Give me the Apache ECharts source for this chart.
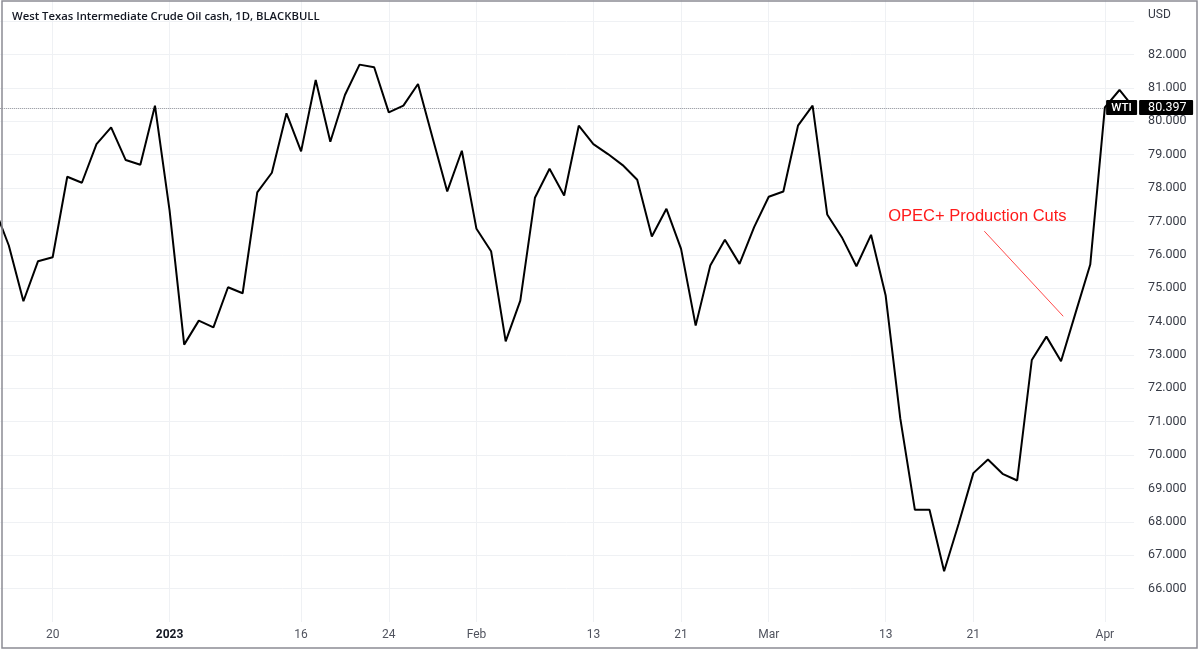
<!DOCTYPE html>
<html>
<head>
<meta charset="utf-8">
<script src="https://cdn.jsdelivr.net/npm/echarts@6/dist/echarts.min.js"></script>
<style>
  html, body { margin: 0; padding: 0; background: #fff; }
  #chart { width: 1202px; height: 651px; }
</style>
</head>
<body>
<div id="chart"></div>
<script>
// ---- data ----
const dates = [
  "2022-12-14","2022-12-15","2022-12-16","2022-12-19","2022-12-20","2022-12-21","2022-12-22","2022-12-23",
  "2022-12-27","2022-12-28","2022-12-29","2022-12-30",
  "2023-01-03","2023-01-04","2023-01-05","2023-01-06","2023-01-09","2023-01-10","2023-01-11","2023-01-12","2023-01-13",
  "2023-01-16","2023-01-17","2023-01-18","2023-01-19","2023-01-20","2023-01-23","2023-01-24","2023-01-25","2023-01-26","2023-01-27",
  "2023-01-30","2023-01-31","2023-02-01","2023-02-02","2023-02-03","2023-02-06","2023-02-07","2023-02-08","2023-02-09","2023-02-10",
  "2023-02-13","2023-02-14","2023-02-15","2023-02-16","2023-02-17","2023-02-20","2023-02-21","2023-02-22","2023-02-23","2023-02-24",
  "2023-02-27","2023-02-28","2023-03-01","2023-03-02","2023-03-03","2023-03-06","2023-03-07","2023-03-08","2023-03-09","2023-03-10",
  "2023-03-13","2023-03-14","2023-03-15","2023-03-16","2023-03-17","2023-03-20","2023-03-21","2023-03-22","2023-03-23","2023-03-24",
  "2023-03-27","2023-03-28","2023-03-29","2023-03-30","2023-03-31","2023-04-03","2023-04-04","2023-04-05"
];
const wtiClose = [
  77.42, 76.28, 74.61, 75.81, 75.93, 78.34, 78.16, 79.32,
  79.82, 78.84, 78.70, 80.47,
  77.33, 73.31, 74.03, 73.83, 75.03, 74.85, 77.87, 78.46, 80.24,
  79.10, 81.24, 79.39, 80.79, 81.70, 81.62, 80.27, 80.47, 81.12, 79.50,
  77.90, 79.12, 76.78, 76.11, 73.41, 74.63, 77.71, 78.58, 77.78, 79.87,
  79.32, 79.02, 78.69, 78.25, 76.55, 77.38, 76.18, 73.88, 75.68, 76.45,
  75.73, 76.83, 77.74, 77.90, 79.87, 80.47, 77.21, 76.53, 75.66, 76.60,
  74.78, 71.10, 68.36, 68.36, 66.52, 67.95, 69.46, 69.87, 69.44, 69.24,
  72.85, 73.55, 72.81, 74.27, 75.71, 80.42, 80.94, 80.397
];
const tickDates  = ["2022-12-20","2023-01-03","2023-01-16","2023-01-24","2023-02-01","2023-02-13","2023-02-21","2023-03-01","2023-03-13","2023-03-21","2023-04-03"];
const tickLabels = ["20","2023","16","24","Feb","13","21","Mar","13","21","Apr"];
const lastPrice = 80.397;
const seriesLabel = "WTI";
const titleText = "West Texas Intermediate Crude Oil cash, 1D, BLACKBULL";
const annotationText = "OPEC+ Production Cuts";

// ---- chart ----
const chart = echarts.init(document.getElementById('chart'), null, { renderer: 'canvas' });
const gridColor = '#eff1f4';
const showTick = (i, v) => tickDates.indexOf(v) >= 0;

const option = {
  animation: false,
  backgroundColor: '#ffffff',
  title: {
    text: titleText,
    left: 12, top: 11, padding: 0,
    textStyle: { fontFamily: 'Open Sans', fontWeight: 600, fontSize: 11.3, color: '#131722' }
  },
  grid: { left: -5.8, right: 67.9, top: 0, bottom: 29, containLabel: false, outerBoundsMode: 'none' },
  xAxis: {
    type: 'category',
    data: dates,
    boundaryGap: false,
    axisLine: { show: false },
    axisTick: { show: false },
    axisLabel: {
      interval: showTick,
      margin: 7,
      fontFamily: 'Roboto',
      fontSize: 12,
      color: '#50535e',
      formatter: (v) => {
        const k = tickDates.indexOf(v);
        const t = k >= 0 ? tickLabels[k] : '';
        return /^\d{4}$/.test(t) ? '{b|' + t + '}' : t;
      },
      rich: { b: { fontFamily: 'Roboto', fontSize: 12, fontWeight: 'bold', color: '#131722' } }
    },
    splitLine: { show: true, interval: showTick, lineStyle: { color: gridColor, width: 1 } }
  },
  yAxis: {
    type: 'value',
    position: 'right',
    min: 65,
    max: 83.636,
    interval: 1,
    axisLine: { show: false },
    axisTick: { show: false },
    axisLabel: {
      margin: 14,
      fontFamily: 'Roboto',
      fontSize: 12.5,
      color: '#363a45',
      formatter: (v) => (v >= 66 && v <= 82.001) ? v.toFixed(3) : ''
    },
    splitLine: { show: true, showMinLine: false, showMaxLine: false, lineStyle: { color: gridColor, width: 1 } }
  },
  series: [{
    type: 'line',
    name: seriesLabel,
    data: wtiClose,
    symbol: 'none',
    lineStyle: { color: '#000000', width: 2 },
    z: 3,
    markLine: {
      silent: true,
      symbol: ['none', 'none'],
      label: { show: false },
      lineStyle: { type: 'dotted', color: '#8a8d96', width: 1 },
      data: [{ yAxis: lastPrice }],
      z: 2
    }
  }]
};
chart.setOption(option);

// ---- overlay labels anchored to data coordinates ----
function px(idx, val) {
  const i0 = Math.floor(idx), f = idx - i0;
  const a = chart.convertToPixel({ gridIndex: 0 }, [i0, val]);
  const b = chart.convertToPixel({ gridIndex: 0 }, [i0 + 1, val]);
  return [a[0] + (b[0] - a[0]) * f, a[1]];
}
const pLast = chart.convertToPixel({ gridIndex: 0 }, [dates.length - 1, lastPrice]);
const yLast = pLast[1];
const gridRight = pLast[0];
const annText = px(67.28, 77.15);
const annFrom = px(67.75, 76.71);
const annTo = px(73.15, 74.16);

chart.setOption({
  graphic: [
    { type: 'rect', z: 100, shape: { x: 2, y: 1, width: 1195, height: 647 },
      style: { fill: 'none', stroke: '#8c8c94', lineWidth: 1.5 } },
    { type: 'text', z: 100, left: 1148, top: 9,
      style: { text: 'USD', fontFamily: 'Roboto', fontSize: 12, fill: '#363a45' } },
    { type: 'rect', z: 100, shape: { x: gridRight - 28, y: yLast - 8, width: 31, height: 15, r: 1 },
      style: { fill: '#000000' } },
    { type: 'text', z: 101, x: gridRight - 12.5, y: yLast,
      style: { text: seriesLabel, fontFamily: 'Roboto', fontSize: 11.5, fontWeight: 500, fill: '#ffffff',
               align: 'center', verticalAlign: 'middle' } },
    { type: 'rect', z: 100, shape: { x: gridRight + 5, y: yLast - 8, width: 54, height: 15, r: 1 },
      style: { fill: '#000000' } },
    { type: 'text', z: 101, x: gridRight + 14, y: yLast,
      style: { text: lastPrice.toFixed(3), fontFamily: 'Roboto', fontSize: 12.5, fill: '#ffffff',
               align: 'left', verticalAlign: 'middle' } },
    { type: 'text', z: 100, x: annText[0], y: annText[1],
      style: { text: annotationText, fontFamily: 'Liberation Sans', fontSize: 16.5, fill: '#ff1a1a',
               align: 'center', verticalAlign: 'middle' } },
    { type: 'line', z: 100, shape: { x1: annFrom[0], y1: annFrom[1], x2: annTo[0], y2: annTo[1] },
      style: { stroke: '#ff4a4a', lineWidth: 1 } }
  ]
});
</script>
</body>
</html>
